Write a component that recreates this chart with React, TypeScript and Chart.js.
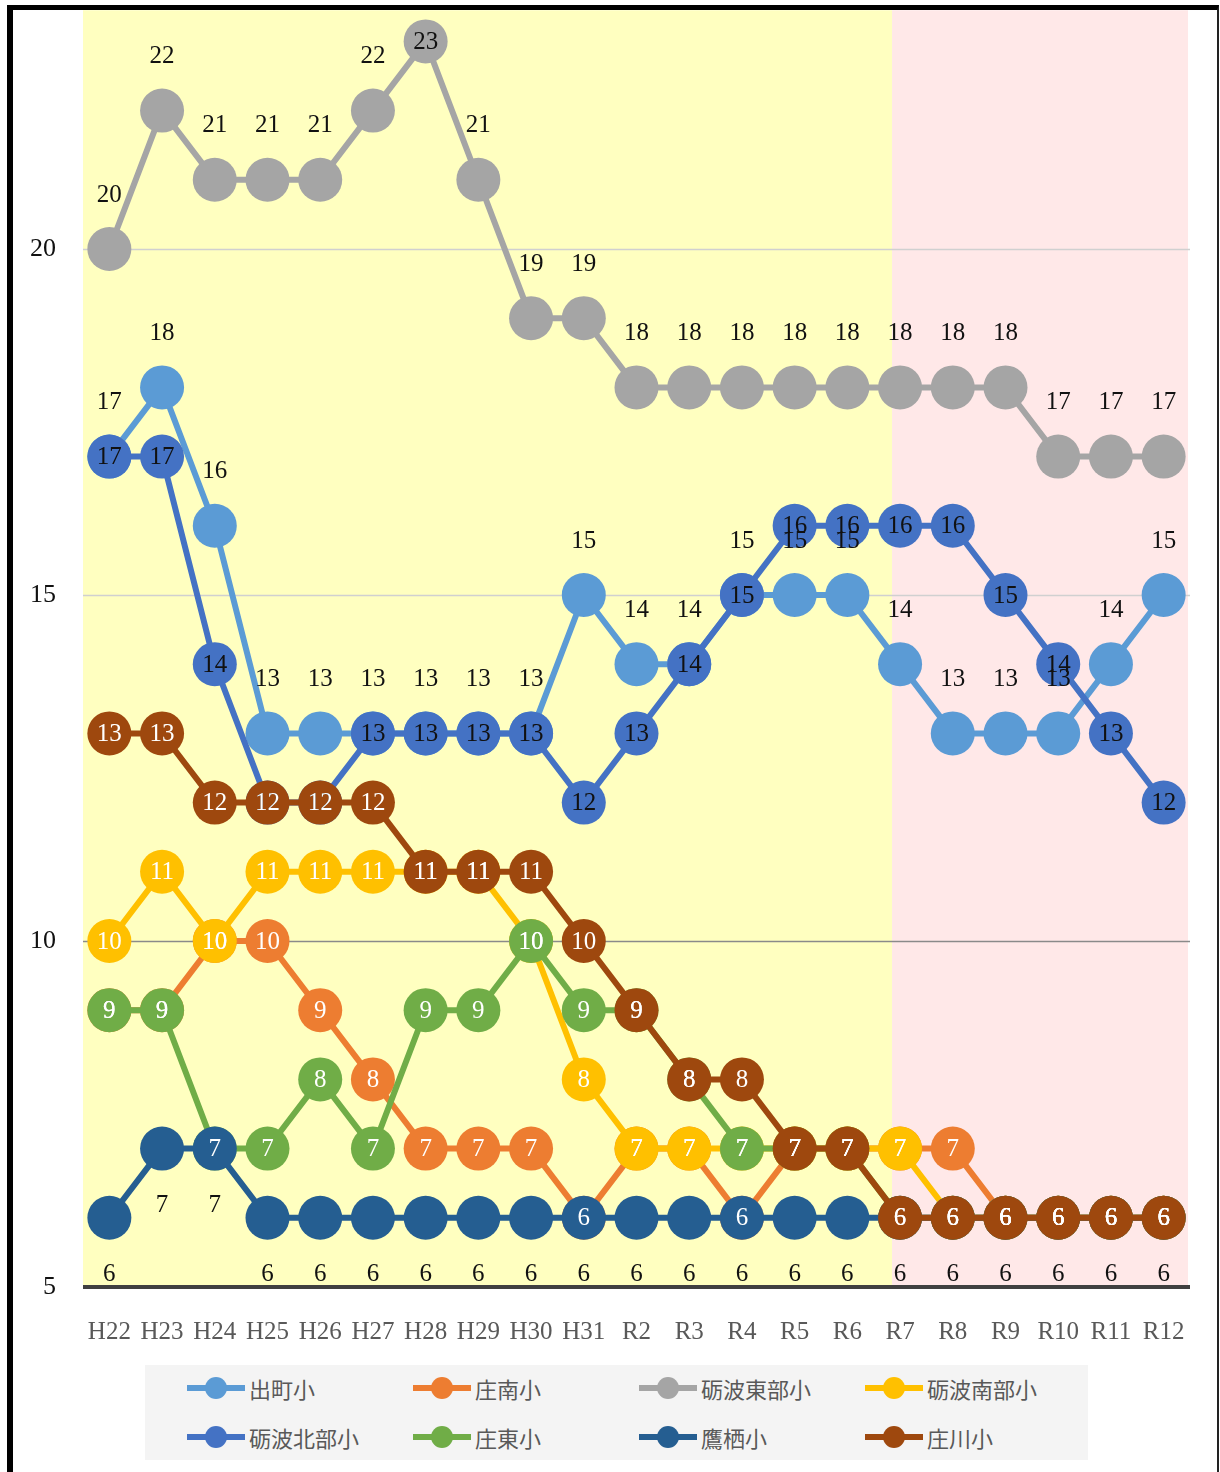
import React, { useEffect, useRef } from 'react';
import { Chart, registerables } from 'chart.js';

Chart.register(...registerables);

const categories = ['H22', 'H23', 'H24', 'H25', 'H26', 'H27', 'H28', 'H29', 'H30', 'H31', 'R2', 'R3', 'R4', 'R5', 'R6', 'R7', 'R8', 'R9', 'R10', 'R11', 'R12'];

const demachi = [17, 18, 16, 13, 13, 13, 13, 13, 13, 15, 14, 14, 15, 15, 15, 14, 13, 13, 13, 14, 15];
const shonan = [9, 9, 10, 10, 9, 8, 7, 7, 7, 6, 7, 7, 6, 7, 7, 7, 7, 6, 6, 6, 6];
const tonamiTobu = [20, 22, 21, 21, 21, 22, 23, 21, 19, 19, 18, 18, 18, 18, 18, 18, 18, 18, 17, 17, 17];
const tonamiNanbu = [10, 11, 10, 11, 11, 11, 11, 11, 10, 8, 7, 7, 7, 7, 7, 7, 6, 6, 6, 6, 6];
const tonamiHokubu = [17, 17, 14, 12, 12, 13, 13, 13, 13, 12, 13, 14, 15, 16, 16, 16, 16, 15, 14, 13, 12];
const shoto = [9, 9, 7, 7, 8, 7, 9, 9, 10, 9, 9, 8, 7, 7, 7, 6, 6, 6, 6, 6, 6];
const takanosu = [6, 7, 7, 6, 6, 6, 6, 6, 6, 6, 6, 6, 6, 6, 6, 6, 6, 6, 6, 6, 6];
const shogawa = [13, 13, 12, 12, 12, 12, 11, 11, 11, 10, 9, 8, 8, 7, 7, 6, 6, 6, 6, 6, 6];

const seriesNames = ['出町小', '庄南小', '砺波東部小', '砺波南部小', '砺波北部小', '庄東小', '鷹栖小', '庄川小'];
const seriesData = [demachi, shonan, tonamiTobu, tonamiNanbu, tonamiHokubu, shoto, takanosu, shogawa];
const seriesColors = ['#5B9BD5', '#ED7D31', '#A5A5A5', '#FFC000', '#4472C4', '#70AD47', '#255E91', '#9E480E'];
const labelPlacement = ['above', 'center', 'above', 'center', 'center', 'center', 'below', 'center'];
const labelColors = ['#111111', '#ffffff', '#111111', '#ffffff', '#111111', '#ffffff', '#111111', '#ffffff'];

const yTickValues = [5, 10, 15, 20];
const yMin = 5;
const yMax = 23.28;
const plotTopValue = 23.45;

const bgPlugin = {
  id: 'bgBands',
  beforeDatasetsDraw(chart: any) {
    const { ctx, chartArea, scales } = chart;
    const x = scales.x;
    const y = scales.y;
    const top = y.getPixelForValue(plotTopValue);
    const split = x.getPixelForValue(15) - 8;
    ctx.save();
    ctx.fillStyle = '#FFFFC0';
    ctx.fillRect(chartArea.left, top, split - chartArea.left, chartArea.bottom - top);
    ctx.fillStyle = '#FFE8E8';
    ctx.fillRect(split, top, chartArea.right - 2 - split, chartArea.bottom - top);
    [20, 15].forEach((v) => {
      const py = Math.round(y.getPixelForValue(v)) + 0.5;
      ctx.strokeStyle = '#D0D0D0';
      ctx.lineWidth = 1.5;
      ctx.beginPath();
      ctx.moveTo(chartArea.left, py);
      ctx.lineTo(chartArea.right, py);
      ctx.stroke();
    });
    const p10 = Math.round(y.getPixelForValue(10)) + 0.5;
    ctx.strokeStyle = '#8A8A8A';
    ctx.lineWidth = 1.5;
    ctx.beginPath();
    ctx.moveTo(chartArea.left, p10);
    ctx.lineTo(chartArea.right, p10);
    ctx.stroke();
    const p5 = y.getPixelForValue(5);
    ctx.strokeStyle = '#404040';
    ctx.lineWidth = 4;
    ctx.beginPath();
    ctx.moveTo(chartArea.left, p5);
    ctx.lineTo(chartArea.right, p5);
    ctx.stroke();
    ctx.restore();
  },
};

const labelPlugin = {
  id: 'valueLabels',
  afterDatasetsDraw(chart: any) {
    const { ctx, scales } = chart;
    const top = scales.y.getPixelForValue(plotTopValue);
    ctx.save();
    ctx.font = '25px "Liberation Serif", "DejaVu Serif", serif';
    ctx.textAlign = 'center';
    ctx.textBaseline = 'middle';
    chart.data.datasets.forEach((ds: any, i: number) => {
      const meta = chart.getDatasetMeta(i);
      const place = labelPlacement[i];
      ctx.fillStyle = labelColors[i];
      meta.data.forEach((pt: any, j: number) => {
        let yy = pt.y;
        if (place === 'above') {
          yy -= 55;
          if (yy - 12 < top) yy = pt.y;
        }
        if (place === 'below') yy += 56;
        ctx.fillText(String(ds.data[j]), pt.x, yy + 1);
      });
    });
    ctx.restore();
  },
};

export default function App() {
  const ref = useRef<HTMLCanvasElement | null>(null);

  useEffect(() => {
    if (!ref.current) return;
    const datasets = seriesNames.map((name, i) => ({
      label: name,
      data: seriesData[i],
      borderColor: seriesColors[i],
      backgroundColor: seriesColors[i],
      pointBackgroundColor: seriesColors[i],
      pointBorderColor: seriesColors[i],
      pointRadius: 22,
      pointHoverRadius: 22,
      pointBorderWidth: 0,
      borderWidth: 6,
      tension: 0,
      order: seriesNames.length - i,
      clip: false as any,
    }));
    const chart = new Chart(ref.current, {
      type: 'line',
      data: { labels: categories, datasets },
      plugins: [bgPlugin, labelPlugin],
      options: {
        animation: false,
        responsive: false,
        devicePixelRatio: 1,
        layout: { padding: { left: 0, right: 30, top: 10, bottom: 115 } },
        plugins: { legend: { display: false }, tooltip: { enabled: false } },
        scales: {
          x: {
            offset: true,
            grid: { display: false, drawTicks: false, offset: true },
            border: { display: false },
            ticks: {
              padding: 30,
              color: '#595959',
              font: { family: '"Liberation Serif", "DejaVu Serif", serif', size: 25 },
              maxRotation: 0,
              autoSkip: false,
            },
            afterFit: (s: any) => {
              s.height = 70;
              s.paddingLeft = 0;
              s.paddingRight = 0;
            },
          },
          y: {
            min: yMin,
            max: yMax,
            grid: { display: false, drawTicks: false },
            border: { display: false },
            afterBuildTicks: (s: any) => {
              s.ticks = yTickValues.map((v) => ({ value: v }));
            },
            ticks: {
              padding: 27,
              color: '#111111',
              font: { family: '"Liberation Serif", "DejaVu Serif", serif', size: 26 },
            },
            afterFit: (s: any) => {
              s.width = 83;
              s.paddingTop = 0;
              s.paddingBottom = 0;
            },
          },
        },
      },
    });
    return () => chart.destroy();
  }, []);

  return (
    <div style={{ position: 'absolute', left: 0, top: 0, width: 1220, height: 1472, overflow: 'hidden', background: '#ffffff' }}>
      <canvas ref={ref} width={1220} height={1472} style={{ position: 'absolute', left: 0, top: 0, width: 1220, height: 1472 }} />
      <div
        style={{
          position: 'absolute',
          left: 7,
          top: 5,
          width: 1212,
          height: 1467,
          boxSizing: 'border-box',
          borderLeft: '6px solid #000',
          borderTop: '5px solid #000',
          borderRight: '2px solid #222',
          pointerEvents: 'none',
        }}
      />
      <div
        style={{
          position: 'absolute',
          left: 145,
          top: 1365,
          width: 943,
          height: 95,
          background: '#F4F4F4',
          fontFamily: '"Noto Sans CJK JP", sans-serif',
          fontSize: 22,
          color: '#595959',
        }}
      >
        {seriesNames.map((name, i) => {
          const col = i % 4;
          const row = Math.floor(i / 4);
          return (
            <div
              key={name}
              style={{
                position: 'absolute',
                left: 42 + col * 226,
                top: 8 + row * 49,
                height: 30,
                display: 'flex',
                alignItems: 'center',
                whiteSpace: 'nowrap',
              }}
            >
              <span style={{ position: 'relative', display: 'inline-block', width: 58, height: 30, marginRight: 4 }}>
                <span style={{ position: 'absolute', left: 0, top: 12, width: 58, height: 6, background: seriesColors[i] }} />
                <span style={{ position: 'absolute', left: 18, top: 4, width: 22, height: 22, borderRadius: 11, background: seriesColors[i] }} />
              </span>
              <span style={{ lineHeight: '30px' }}>{name}</span>
            </div>
          );
        })}
      </div>
    </div>
  );
}
